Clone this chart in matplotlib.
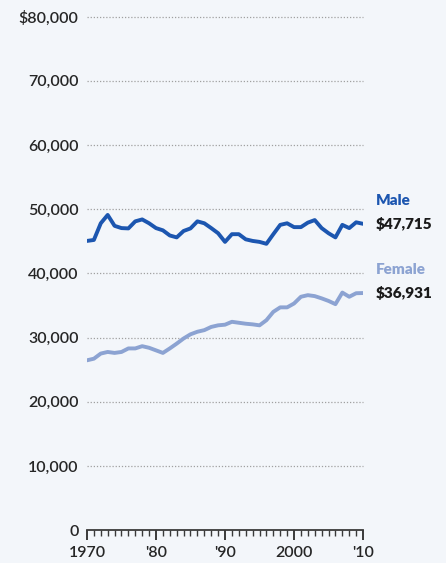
import matplotlib.pyplot as plt
from matplotlib.ticker import FuncFormatter

plt.rcParams['font.family'] = ['Lato', 'DejaVu Sans']

years = list(range(1970, 2011))
male = [45050, 45200, 47800, 49100, 47400, 47050, 47000, 48100, 48400, 47800,
        47050, 46700, 45900, 45600, 46600, 47000, 48100, 47800, 47050, 46250,
        44900, 46100, 46100, 45300, 45050, 44900, 44600, 46100, 47550, 47800,
        47200, 47200, 47900, 48300, 47050, 46250, 45600, 47550, 47050, 47950,
        47715]
female = [26450, 26700, 27500, 27750, 27600, 27750, 28300, 28300, 28650, 28400,
          28000, 27600, 28300, 29050, 29850, 30500, 30900, 31150, 31650, 31900,
          32000, 32450, 32300, 32150, 32050, 31900, 32700, 34000, 34700, 34700,
          35300, 36350, 36600, 36450, 36100, 35700, 35200, 37000, 36350, 36900,
          36931]
x_labels = ['1970', "'80", "'90", '2000', "'10"]

bg = '#f3f6fa'
male_color = '#1c56b0'
female_color = '#8ca3d2'
text_color = '#262626'

fig = plt.figure(figsize=(4.46, 5.63), dpi=100, facecolor=bg)
ax = fig.add_axes([0.195, 0.0585, 0.619, 0.912], facecolor=bg)

ax.plot(years, female, color=female_color, lw=2.8, solid_joinstyle='round',
        solid_capstyle='round', zorder=3)
ax.plot(years, male, color=male_color, lw=2.8, solid_joinstyle='round',
        solid_capstyle='round', zorder=3)

ax.set_xlim(1970, 2010)
ax.set_ylim(0, 80000)

# dotted gridlines for every 10k above zero
for v in range(10000, 80001, 10000):
    ax.axhline(v, color='#a0a0a0', lw=0.9, ls=(0, (1, 1.5)), zorder=1,
               clip_on=False)

for s in ['top', 'right', 'left']:
    ax.spines[s].set_visible(False)
ax.spines['bottom'].set_color('#3a3a3a')
ax.spines['bottom'].set_linewidth(1.3)

ax.set_xticks(range(1970, 2011, 10))
ax.set_xticklabels(x_labels)
ax.set_xticks(years, minor=True)
ax.tick_params(axis='x', which='major', direction='out', length=7.5, width=1.4,
               color='#3a3a3a', pad=4, labelsize=11.5, labelcolor=text_color)
ax.tick_params(axis='x', which='minor', direction='out', length=4, width=1.0,
               color='#3a3a3a')

ax.set_yticks(range(0, 80001, 10000))
ax.yaxis.set_major_formatter(FuncFormatter(
    lambda v, p: '$' + f'{int(v):,}' if v == 80000 else f'{int(v):,}'))
ax.tick_params(axis='y', length=0, pad=6, labelsize=11.5, labelcolor=text_color)

for lbl in ax.get_xticklabels() + ax.get_yticklabels():
    lbl.set_fontweight('semibold')

# end-of-line labels
ax.annotate('Male', (2010, male[-1]), xytext=(9, 17), textcoords='offset points',
            color=male_color, fontsize=11, fontweight='heavy', va='center',
            annotation_clip=False)
ax.annotate(f'${male[-1]:,}', (2010, male[-1]), xytext=(9, 0),
            textcoords='offset points', color='#1a1a1a', fontsize=11,
            fontweight='heavy', va='center', annotation_clip=False)
ax.annotate('Female', (2010, female[-1]), xytext=(9, 17),
            textcoords='offset points', color=female_color, fontsize=11,
            fontweight='heavy', va='center', annotation_clip=False)
ax.annotate(f'${female[-1]:,}', (2010, female[-1]), xytext=(9, 0),
            textcoords='offset points', color='#1a1a1a', fontsize=11,
            fontweight='heavy', va='center', annotation_clip=False)

fig.savefig('out.png', dpi=100, facecolor=bg)
